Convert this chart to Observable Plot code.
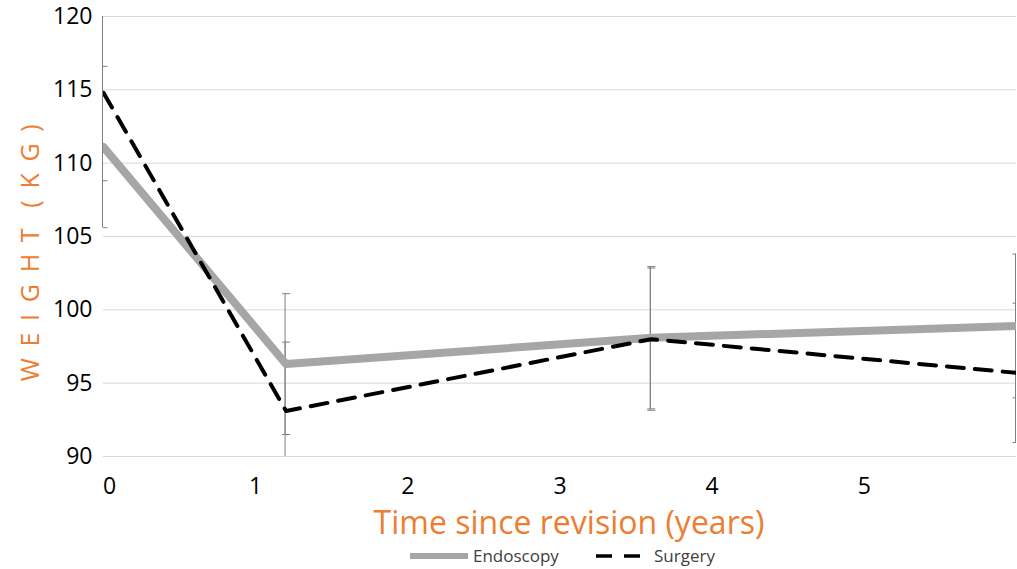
<!DOCTYPE html>
<html><head><meta charset="utf-8">
<script src="https://cdn.jsdelivr.net/npm/d3@7"></script>
<script src="https://cdn.jsdelivr.net/npm/@observablehq/plot@0.6"></script>
<style>
body{margin:0;background:#fff;font-family:"Open Sans",sans-serif;}
#wrap{position:relative;width:1017px;height:569px;overflow:hidden;}
#chart{position:absolute;left:0;top:0;}
#legend{position:absolute;left:0;top:542px;width:1017px;height:27px;font-size:17px;color:#404040;}
#legend .item{position:absolute;top:0;height:27px;display:flex;align-items:center;}
</style></head><body>
<div id="wrap"><div id="chart"></div><div id="legend"></div></div>
<script>
// --- data ---
const years = [0, 1.2, 3.6, 6.0];
const endoscopy = [111.1, 96.3, 98.1, 98.9];
const endoscopySD = [5.5, 4.8, 4.85, 4.9];
const surgery = [114.8, 93.1, 98.0, 95.7];
const surgerySD = [6.0, 4.7, 4.85, 4.75];
const xTicks = [0, 1, 2, 3, 4, 5];
const yTicks = [90, 95, 100, 105, 110, 115, 120];
const seriesNames = ["Endoscopy", "Surgery"];
const xTitle = "Time since revision (years)";
const yTitle = "W E I G H T  ( K G )";

const rows = years.flatMap((x, i) => [
  {x, group: seriesNames[0], y: endoscopy[i], sd: endoscopySD[i]},
  {x, group: seriesNames[1], y: surgery[i], sd: surgerySD[i]}
]);
const caps = rows.flatMap(d => [{x: d.x, y: d.y - d.sd}, {x: d.x, y: d.y + d.sd}])
  .filter(d => d.y >= 90 && d.y <= 120);
const capSymbol = {draw(ctx, size) { const r = Math.sqrt(size / Math.PI); ctx.moveTo(-r, 0); ctx.lineTo(r, 0); }};
const orange = "#ed7d31";

const chart = Plot.plot({
  width: 1017, height: 542,
  marginTop: 16, marginBottom: 86, marginLeft: 103, marginRight: 1,
  x: {domain: [0, 6]},
  y: {domain: [90, 120], clamp: true},
  style: {fontFamily: "Open Sans, sans-serif", background: "#fff", overflow: "visible"},
  marks: [
    Plot.gridY(yTicks, {stroke: "#d9d9d9", strokeOpacity: 1}),
    Plot.axisY(yTicks, {tickSize: 0, tickPadding: 11, fontSize: 23, fill: "#000", label: null, tickFormat: "d"}),
    Plot.axisX(xTicks.filter(t => t > 0), {tickSize: 0, tickPadding: 21, fontSize: 23, fill: "#000", label: null, tickFormat: "d"}),
    Plot.axisX(xTicks.filter(t => t === 0), {tickSize: 0, tickPadding: 21, fontSize: 23, fill: "#000", label: null, tickFormat: "d", dx: 6}),
    Plot.ruleX(rows, {x: "x", y1: d => d.y - d.sd, y2: d => d.y + d.sd, stroke: "#7f7f7f", strokeWidth: 1, dx: -1}),
    Plot.dot(caps, {x: "x", y: "y", symbol: capSymbol, r: 4, fill: "none", stroke: "#7f7f7f", strokeWidth: 1, clip: true}),
    Plot.line(rows.filter(d => d.group === seriesNames[0]), {x: "x", y: "y", stroke: "#a6a6a6", strokeWidth: 8, strokeLinejoin: "miter", clip: true}),
    Plot.line(rows.filter(d => d.group === seriesNames[1]), {x: "x", y: "y", stroke: "#000", strokeWidth: 4, strokeDasharray: "17,11", clip: true}),
    Plot.text([xTitle], {frameAnchor: "bottom", lineAnchor: "middle", textAnchor: "middle", dy: 67, dx: 9, fontSize: 32, fill: orange}),
    Plot.text([yTitle], {frameAnchor: "left", lineAnchor: "middle", textAnchor: "middle", dx: -73, dy: 15, rotate: -90, fontSize: 25, fill: orange, className: "ytitle"})
  ]
});
document.getElementById("chart").appendChild(chart);
d3.select(chart).selectAll(".ytitle text").style("letter-spacing", "2.6px");

// legend
const legend = document.getElementById("legend");
legend.innerHTML = `
  <div class="item" style="left:410px"><svg width="58" height="10"><line x1="0" x2="58" y1="5" y2="5" stroke="#a6a6a6" stroke-width="6"/></svg></div>
  <div class="item" style="left:473px"><span>${seriesNames[0]}</span></div>
  <div class="item" style="left:596px"><svg width="46" height="10"><line x1="0" x2="46" y1="5" y2="5" stroke="#000" stroke-width="3.5" stroke-dasharray="16,12"/></svg></div>
  <div class="item" style="left:654px"><span>${seriesNames[1]}</span></div>`;
</script>
</body></html>
